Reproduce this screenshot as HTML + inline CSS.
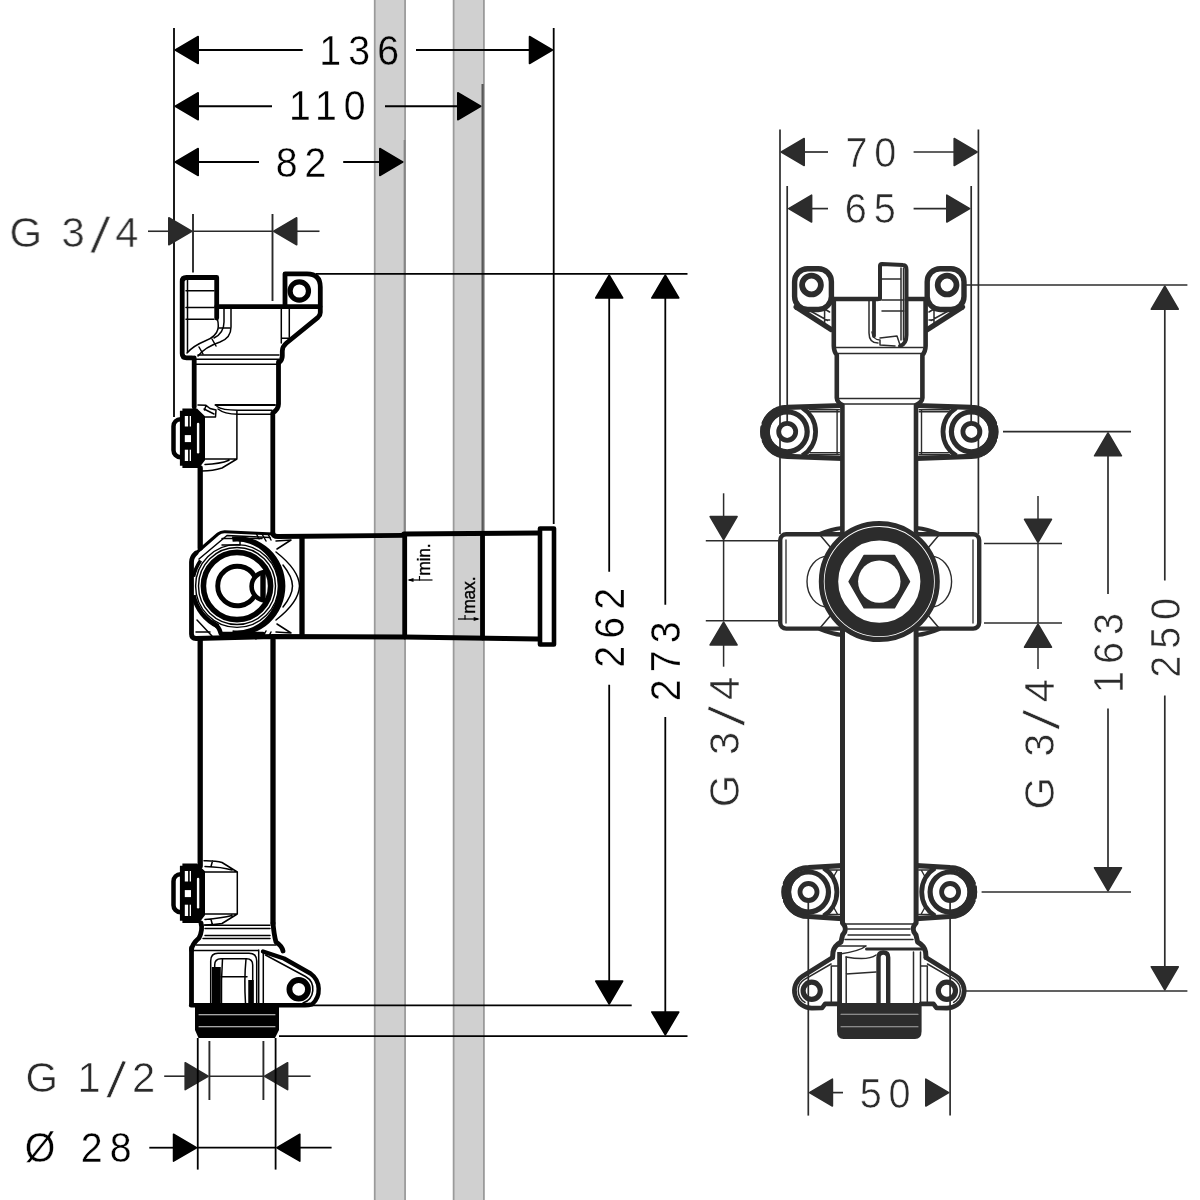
<!DOCTYPE html>
<html lang="en"><head><meta charset="utf-8"><title>Dimensional drawing</title>
<style>
html,body{margin:0;padding:0;background:#fff;}
body{width:1200px;height:1200px;overflow:hidden;}
svg{display:block;}
text{font-family:"Liberation Sans",sans-serif;}
</style></head><body>
<svg width="1200" height="1200" viewBox="0 0 1200 1200">
<rect width="1200" height="1200" fill="#fff"/>
<g opacity="0.999">
<rect x="373.9" y="0" width="32.0" height="1200" fill="#d0d0d0"/>
<rect x="373.9" y="0" width="1.7" height="1200" fill="#9a9a9a"/>
<rect x="404.2" y="0" width="1.7" height="1200" fill="#9a9a9a"/>
<rect x="452.8" y="0" width="31.899999999999977" height="1200" fill="#d0d0d0"/>
<rect x="452.8" y="0" width="1.7" height="1200" fill="#9a9a9a"/>
<rect x="483.0" y="0" width="1.7" height="1200" fill="#9a9a9a"/>
<line x1="174" y1="28" x2="174" y2="417" stroke="#000" stroke-width="1.8" stroke-linecap="butt"/>
<line x1="553.7" y1="28" x2="553.7" y2="524" stroke="#000" stroke-width="1.8" stroke-linecap="butt"/>
<line x1="482.6" y1="84" x2="482.6" y2="533" stroke="#585858" stroke-width="2.2" stroke-linecap="butt"/>
<line x1="404.6" y1="140" x2="404.6" y2="533" stroke="#858585" stroke-width="1.9" stroke-linecap="butt"/>
<line x1="198" y1="50" x2="302.7" y2="50" stroke="#000" stroke-width="1.8" stroke-linecap="butt"/>
<line x1="416" y1="50" x2="530" y2="50" stroke="#000" stroke-width="1.8" stroke-linecap="butt"/>
<polygon points="175.28,50.00 198.20,36.54 198.20,63.46" fill="#000" stroke="#000" stroke-width="1.6" stroke-linejoin="round"/>
<polygon points="552.42,50.00 529.50,36.54 529.50,63.46" fill="#000" stroke="#000" stroke-width="1.6" stroke-linejoin="round"/>
<line x1="198" y1="106.25" x2="272" y2="106.25" stroke="#000" stroke-width="1.8" stroke-linecap="butt"/>
<line x1="385" y1="106.25" x2="458" y2="106.25" stroke="#000" stroke-width="1.8" stroke-linecap="butt"/>
<polygon points="175.28,106.25 198.20,92.79 198.20,119.71" fill="#000" stroke="#000" stroke-width="1.6" stroke-linejoin="round"/>
<polygon points="480.72,106.25 457.80,92.79 457.80,119.71" fill="#000" stroke="#000" stroke-width="1.6" stroke-linejoin="round"/>
<line x1="198" y1="162" x2="259" y2="162" stroke="#000" stroke-width="1.8" stroke-linecap="butt"/>
<line x1="343.2" y1="162" x2="380" y2="162" stroke="#000" stroke-width="1.8" stroke-linecap="butt"/>
<polygon points="175.28,162.00 198.20,148.54 198.20,175.46" fill="#000" stroke="#000" stroke-width="1.6" stroke-linejoin="round"/>
<polygon points="402.72,162.00 379.80,148.54 379.80,175.46" fill="#000" stroke="#000" stroke-width="1.6" stroke-linejoin="round"/>
<line x1="148" y1="231.25" x2="170" y2="231.25" stroke="#2a2a2a" stroke-width="1.6" stroke-linecap="butt"/>
<line x1="193" y1="231.25" x2="272.5" y2="231.25" stroke="#2a2a2a" stroke-width="1.6" stroke-linecap="butt"/>
<line x1="296" y1="231.25" x2="319.5" y2="231.25" stroke="#2a2a2a" stroke-width="1.6" stroke-linecap="butt"/>
<polygon points="191.72,231.25 168.80,217.79 168.80,244.71" fill="#2a2a2a" stroke="#2a2a2a" stroke-width="1.6" stroke-linejoin="round"/>
<polygon points="273.78,231.25 296.70,217.79 296.70,244.71" fill="#2a2a2a" stroke="#2a2a2a" stroke-width="1.6" stroke-linejoin="round"/>
<line x1="193" y1="214" x2="193" y2="272.5" stroke="#2a2a2a" stroke-width="1.9" stroke-linecap="butt"/>
<line x1="272.5" y1="214" x2="272.5" y2="301" stroke="#2a2a2a" stroke-width="1.9" stroke-linecap="butt"/>
<line x1="316" y1="273.8" x2="687.5" y2="273.8" stroke="#000" stroke-width="1.8" stroke-linecap="butt"/>
<line x1="308" y1="1005.3" x2="631.7" y2="1005.3" stroke="#000" stroke-width="1.8" stroke-linecap="butt"/>
<line x1="279" y1="1036.2" x2="687.5" y2="1036.2" stroke="#000" stroke-width="1.8" stroke-linecap="butt"/>
<line x1="609.2" y1="297" x2="609.2" y2="571.7" stroke="#000" stroke-width="1.8" stroke-linecap="butt"/>
<line x1="609.2" y1="684.7" x2="609.2" y2="982" stroke="#000" stroke-width="1.8" stroke-linecap="butt"/>
<polygon points="609.20,275.08 595.74,298.00 622.66,298.00" fill="#000" stroke="#000" stroke-width="1.6" stroke-linejoin="round"/>
<polygon points="609.20,1004.02 595.74,981.10 622.66,981.10" fill="#000" stroke="#000" stroke-width="1.6" stroke-linejoin="round"/>
<line x1="665.3" y1="297" x2="665.3" y2="604.7" stroke="#000" stroke-width="1.8" stroke-linecap="butt"/>
<line x1="665.3" y1="717" x2="665.3" y2="1013" stroke="#000" stroke-width="1.8" stroke-linecap="butt"/>
<polygon points="665.30,275.08 651.84,298.00 678.76,298.00" fill="#000" stroke="#000" stroke-width="1.6" stroke-linejoin="round"/>
<polygon points="665.30,1034.92 651.84,1012.00 678.76,1012.00" fill="#000" stroke="#000" stroke-width="1.6" stroke-linejoin="round"/>
<line x1="164.2" y1="1076.2" x2="186" y2="1076.2" stroke="#2a2a2a" stroke-width="1.6" stroke-linecap="butt"/>
<line x1="209.4" y1="1076.2" x2="263.4" y2="1076.2" stroke="#2a2a2a" stroke-width="1.6" stroke-linecap="butt"/>
<line x1="287" y1="1076.2" x2="310.6" y2="1076.2" stroke="#2a2a2a" stroke-width="1.6" stroke-linecap="butt"/>
<polygon points="208.12,1076.20 185.20,1062.74 185.20,1089.66" fill="#2a2a2a" stroke="#2a2a2a" stroke-width="1.6" stroke-linejoin="round"/>
<polygon points="264.68,1076.20 287.60,1062.74 287.60,1089.66" fill="#2a2a2a" stroke="#2a2a2a" stroke-width="1.6" stroke-linejoin="round"/>
<line x1="209.4" y1="1041" x2="209.4" y2="1100" stroke="#2a2a2a" stroke-width="1.9" stroke-linecap="butt"/>
<line x1="263.4" y1="1041" x2="263.4" y2="1100" stroke="#2a2a2a" stroke-width="1.9" stroke-linecap="butt"/>
<line x1="149.3" y1="1147.7" x2="174" y2="1147.7" stroke="#000" stroke-width="1.8" stroke-linecap="butt"/>
<line x1="197.75" y1="1147.7" x2="275.6" y2="1147.7" stroke="#000" stroke-width="1.8" stroke-linecap="butt"/>
<line x1="299" y1="1147.7" x2="331.6" y2="1147.7" stroke="#000" stroke-width="1.8" stroke-linecap="butt"/>
<polygon points="196.47,1147.70 173.55,1134.24 173.55,1161.16" fill="#000" stroke="#000" stroke-width="1.6" stroke-linejoin="round"/>
<polygon points="276.88,1147.70 299.80,1134.24 299.80,1161.16" fill="#000" stroke="#000" stroke-width="1.6" stroke-linejoin="round"/>
<line x1="197.75" y1="1038" x2="197.75" y2="1169.6" stroke="#000" stroke-width="1.8" stroke-linecap="butt"/>
<line x1="275.6" y1="1038" x2="275.6" y2="1169.6" stroke="#000" stroke-width="1.8" stroke-linecap="butt"/>
<text font-size="42.7" fill="#000" stroke="#fff" stroke-width="0.35" transform="translate(0 64.8) rotate(0.02) scale(0.92 1)"><tspan x="347.14">1</tspan><tspan x="378.56">3</tspan><tspan x="409.97" dy="0" rotate="0" stroke="#d0d0d0">6</tspan></text>
<text font-size="42.7" letter-spacing="7.67" fill="#000" stroke="#fff" stroke-width="0.35" transform="translate(288.97 120.3) rotate(0.02) scale(0.92 1)">110</text>
<text font-size="42.7" letter-spacing="7.67" fill="#000" stroke="#fff" stroke-width="0.35" transform="translate(275.67 176.6) rotate(0.02) scale(0.92 1)">82</text>
<text font-size="43.1" fill="#2a2a2a" stroke="#fff" stroke-width="0.6" transform="translate(0 247) rotate(0.02) scale(0.97 1)"><tspan x="9.80">G</tspan> <tspan x="63.37">3</tspan><tspan x="93.39" font-size="52.51" dy="5" rotate="9">/</tspan><tspan x="118.84" dy="-5">4</tspan></text>
<text font-size="43.1" fill="#2a2a2a" stroke="#fff" stroke-width="0.6" transform="translate(0 1091.8) rotate(0.02) scale(0.97 1)"><tspan x="26.25">G</tspan> <tspan x="79.87">1</tspan><tspan x="109.68" font-size="52.51" dy="5" rotate="9">/</tspan><tspan x="136.16" dy="-5">2</tspan></text>
<text font-size="42.7" fill="#000" stroke="#fff" stroke-width="0.35" transform="translate(0 1162.3) rotate(0.02) scale(0.92 1)"><tspan x="26.78">Ø</tspan> <tspan x="87.80">2</tspan><tspan x="119.21">8</tspan></text>
<text font-size="42.7" letter-spacing="7.67" fill="#000" stroke="#fff" stroke-width="0.35" transform="translate(623.90 667.63) rotate(-90) scale(0.92 1)">262</text>
<text font-size="42.7" letter-spacing="7.67" fill="#000" stroke="#fff" stroke-width="0.35" transform="translate(679.80 701.13) rotate(-90) scale(0.92 1)">273</text>
<text x="430" y="575.8" font-size="17.5" letter-spacing="-0.2" fill="#000" text-anchor="start" font-weight="400" transform="rotate(-90 430 575.8)" stroke="#000" stroke-width="0.35">min.</text>
<text x="475.2" y="613.8" font-size="17.5" letter-spacing="-0.2" fill="#000" text-anchor="start" font-weight="400" transform="rotate(-90 475.2 613.8)" stroke="#000" stroke-width="0.35">max.</text>
<line x1="409" y1="580" x2="432.5" y2="580" stroke="#000" stroke-width="1.2" stroke-linecap="butt"/>
<line x1="419.5" y1="576" x2="419.5" y2="580.5" stroke="#000" stroke-width="1.2" stroke-linecap="butt"/>
<polygon points="407.3,580 413.5,578 413.5,582" fill="#000"/>
<line x1="458" y1="619" x2="478" y2="619" stroke="#000" stroke-width="1.2" stroke-linecap="butt"/>
<line x1="465" y1="615" x2="465" y2="619.5" stroke="#000" stroke-width="1.2" stroke-linecap="butt"/>
<polygon points="479.9,619 473.7,617 473.7,621" fill="#000"/>
<path d="M216.7,318 V277.5 H186.5 Q182.2,277.5 182.2,281.5 V353.5 Q182.2,357.8 186.5,357.8 H192" fill="none" stroke="#000" stroke-width="4.8" stroke-linejoin="round" stroke-linecap="round"/>
<path d="M187.5,280 V352" fill="none" stroke="#000" stroke-width="1.5" stroke-linejoin="round" stroke-linecap="round"/>
<path d="M186,290.8 H214 M186,307.5 H214 M186,319.2 H214" fill="none" stroke="#000" stroke-width="1.5" stroke-linejoin="round" stroke-linecap="round"/>
<path d="M216.7,306.7 H320" fill="none" stroke="#000" stroke-width="4.8" stroke-linejoin="round" stroke-linecap="round"/>
<path d="M285,306 V273.8 H307 Q320.3,273.8 320.3,287 V312.5 Q320.3,315.3 318,317.3 L286.5,343 Q282.3,346.5 282.3,351 V356 Q282.3,360 279,362.5" fill="none" stroke="#000" stroke-width="4.8" stroke-linejoin="round" stroke-linecap="round"/>
<path d="M281.3,309 V343 M289.3,309 V337 M281.5,338.3 H289.3" fill="none" stroke="#000" stroke-width="1.5" stroke-linejoin="round" stroke-linecap="round"/>
<circle cx="299.3" cy="291" r="9.2" fill="none" stroke="#000" stroke-width="5.2"/>
<path d="M231,309 V327 Q231,338 220,342 Q205,347 198,356" fill="none" stroke="#000" stroke-width="1.5" stroke-linejoin="round" stroke-linecap="round"/>
<path d="M216.5,318 Q219,322 218,329 Q216,337 205,341 Q193,346 187,353" fill="none" stroke="#000" stroke-width="1.5" stroke-linejoin="round" stroke-linecap="round"/>
<path d="M224,309 V322 Q224,333 214,338" fill="none" stroke="#000" stroke-width="1.5" stroke-linejoin="round" stroke-linecap="round"/>
<path d="M219,328 H230 M212,339 L216,346 M199,347 L203,354" fill="none" stroke="#000" stroke-width="1.5" stroke-linejoin="round" stroke-linecap="round"/>
<path d="M198,355 H279 M196,359.3 H279 M196,364.2 H279" fill="none" stroke="#000" stroke-width="1.5" stroke-linejoin="round" stroke-linecap="round"/>
<path d="M194.2,358 V407" fill="none" stroke="#000" stroke-width="4.8" stroke-linejoin="round" stroke-linecap="round"/>
<path d="M278.5,362 V404 Q278.5,409 272.8,413 V533" fill="none" stroke="#000" stroke-width="4.8" stroke-linejoin="round" stroke-linecap="round"/>
<path d="M215.5,404.9 H275" fill="none" stroke="#000" stroke-width="2" stroke-linejoin="round" stroke-linecap="round"/>
<path d="M217,406.5 Q222,410.2 238,410.2 H272" fill="none" stroke="#000" stroke-width="1.5" stroke-linejoin="round" stroke-linecap="round"/>
<path d="M218,409 Q224,414 238,414.2 H272" fill="none" stroke="#000" stroke-width="1.5" stroke-linejoin="round" stroke-linecap="round"/>
<path d="M236.9,411 V458.8 M205,459 H236.9 L222,468 Q213,471 202,471 M229,460.3 Q220,464 205,464.5" fill="none" stroke="#000" stroke-width="1.5" stroke-linejoin="round" stroke-linecap="round"/>
<path d="M198,405 L206,405.3 L210,408.5 L216,410 L215.5,417 L205,417 M204,409 L214,414 M206,405.5 L204.5,410" fill="none" stroke="#000" stroke-width="1.5" stroke-linejoin="round" stroke-linecap="round"/>
<rect x="173.5" y="419.2" width="14" height="38" rx="7" fill="none" stroke="#000" stroke-width="4.5"/>
<path d="M182.4,408.5 H197 L205,416.2 V460.2 L199,467.9 H182.4 V465.7 H179.9 V410.7 H182.4 Z" fill="#000"/>
<rect x="184.8" y="416.0" width="3.3" height="10.5" fill="#fff"/>
<rect x="189.7" y="416.0" width="1.3" height="10.5" fill="#fff"/>
<rect x="184.8" y="449.7" width="3.3" height="11.300000000000011" fill="#fff"/>
<rect x="189.7" y="449.7" width="1.3" height="11.300000000000011" fill="#fff"/>
<rect x="184.8" y="435.09999999999997" width="6.2" height="7" fill="#fff"/>
<rect x="196.9" y="422.7" width="2.4" height="30.8" rx="1.2" fill="#fff"/>
<path d="M200.2,468 V548" fill="none" stroke="#000" stroke-width="5.3" stroke-linejoin="round" stroke-linecap="round"/>
<path d="M200.2,640 V866" fill="none" stroke="#000" stroke-width="5.3" stroke-linejoin="round" stroke-linecap="round"/>
<path d="M273,640 V923" fill="none" stroke="#000" stroke-width="5.3" stroke-linejoin="round" stroke-linecap="round"/>
<path d="M272.8,533 Q273,536.5 278,536.5 L405,535.3" fill="none" stroke="#000" stroke-width="4.8" stroke-linejoin="round" stroke-linecap="round"/>
<path d="M404,534 L538,533" fill="none" stroke="#000" stroke-width="5.2" stroke-linejoin="round" stroke-linecap="round"/>
<path d="M273,534 L225,531.8 Q221,531.6 218,534 L195,554" fill="none" stroke="#000" stroke-width="3" stroke-linejoin="round" stroke-linecap="round"/>
<path d="M270,537.5 L227,535.5 L199,559" fill="none" stroke="#000" stroke-width="1.5" stroke-linejoin="round" stroke-linecap="round"/>
<path d="M196,553 Q191.5,557 191.5,562 V634 Q191.5,638.5 196,638.5 L273,636.5 L405,637 L538,639" fill="none" stroke="#000" stroke-width="4.8" stroke-linejoin="round" stroke-linecap="round"/>
<path d="M302,537 V636" fill="none" stroke="#000" stroke-width="5.3" stroke-linejoin="round" stroke-linecap="round"/>
<path d="M404.7,535 V637" fill="none" stroke="#000" stroke-width="4.8" stroke-linejoin="round" stroke-linecap="round"/>
<path d="M482.5,534 V638" fill="none" stroke="#000" stroke-width="4.8" stroke-linejoin="round" stroke-linecap="round"/>
<rect x="540" y="528.5" width="14" height="116" fill="#fff" stroke="#000" stroke-width="4.6" stroke-linejoin="round"/>
<circle cx="237" cy="586" r="41.4" fill="none" stroke="#000" stroke-width="1.4"/>
<circle cx="237" cy="586" r="38.5" fill="none" stroke="#000" stroke-width="1.4"/>
<circle cx="237" cy="586" r="33.6" fill="none" stroke="#000" stroke-width="5.6"/>
<path d="M231.94,536.57 A48.4,49.7 0 1 1 231.94,635.43 L232.69,630.16 A41.2,44.4 0 1 0 232.69,541.84 Z" fill="#000"/>
<path d="M218.19,626.33 A44.5,44.5 0 0 1 193.47,595.25" fill="none" stroke="#000" stroke-width="4.6" stroke-linecap="butt"/>
<path d="M193.47,576.75 A44.5,44.5 0 0 1 200.55,560.48" fill="none" stroke="#000" stroke-width="3.6" stroke-linecap="butt"/>
<path d="M254.5,596 A19.75,19.75 0 1 1 254.5,576" fill="none" stroke="#000" stroke-width="4.9" stroke-linejoin="round" stroke-linecap="round"/>
<clipPath id="vc"><circle cx="237" cy="586" r="33"/></clipPath>
<g clip-path="url(#vc)"><circle cx="265.8" cy="586.3" r="14.2" fill="none" stroke="#000" stroke-width="4.6"/></g>
<path d="M263,574 V600" fill="none" stroke="#000" stroke-width="5.4" stroke-linejoin="round" stroke-linecap="butt"/>
<path d="M222,538.5 H262 M240,538.5 V545 H222 M262,534 L266,541 M256,533 L259,539 M268,534 L271,540" fill="none" stroke="#000" stroke-width="1.5" stroke-linejoin="round" stroke-linecap="round"/>
<path d="M276,541 L291,540 L277,549 M276,632 L291,633 L277,624" fill="none" stroke="#000" stroke-width="1.5" stroke-linejoin="round" stroke-linecap="round"/>
<path d="M276,552 Q299,570 299.5,586 Q299,602 276,620 M283,565 Q292.5,577 292.5,586 Q292.5,595 283,607" fill="none" stroke="#000" stroke-width="1.5" stroke-linejoin="round" stroke-linecap="round"/>
<path d="M196,632 H210 M262,638 L266,631 M256,639 L259,633 M268,638 L271,632" fill="none" stroke="#000" stroke-width="1.5" stroke-linejoin="round" stroke-linecap="round"/>
<path d="M197,620 L212,636" fill="none" stroke="#000" stroke-width="1.5" stroke-linejoin="round" stroke-linecap="round"/>
<path d="M213,623 Q219,626 221,634 H263" fill="none" stroke="#000" stroke-width="4.6" stroke-linejoin="round" stroke-linecap="round"/>
<rect x="173.5" y="874.2" width="14" height="38" rx="7" fill="none" stroke="#000" stroke-width="4.5"/>
<path d="M182.4,863.5 H197 L205,871.2 V915.2 L199,922.9000000000001 H182.4 V920.7 H179.9 V865.7 H182.4 Z" fill="#000"/>
<rect x="184.8" y="871.0" width="3.3" height="10.5" fill="#fff"/>
<rect x="189.7" y="871.0" width="1.3" height="10.5" fill="#fff"/>
<rect x="184.8" y="904.7" width="3.3" height="11.299999999999955" fill="#fff"/>
<rect x="189.7" y="904.7" width="1.3" height="11.299999999999955" fill="#fff"/>
<rect x="184.8" y="890.1" width="6.2" height="7" fill="#fff"/>
<rect x="196.9" y="877.7" width="2.4" height="30.8" rx="1.2" fill="#fff"/>
<path d="M205,872 H237.3 V914 H205 M237.3,872 L222,862.5 Q216,860.5 204,860.7 M237.3,914 L222,923.5 Q214,925 204,925 M205,866.5 Q222,867 232,870 M205,919.5 Q222,918 232,915.5 M212.5,861 L211,866.5 M212.5,925 L211,919.5" fill="none" stroke="#000" stroke-width="1.5" stroke-linejoin="round" stroke-linecap="round"/>
<path d="M205,925.2 H270 M205,928.6 H270 M205,935.5 H270 M203,938.5 H270 M196,945 H276" fill="none" stroke="#000" stroke-width="1.5" stroke-linejoin="round" stroke-linecap="round"/>
<path d="M201,923 Q203,930 199,938 Q192,944 191.5,950" fill="none" stroke="#000" stroke-width="4.8" stroke-linejoin="round" stroke-linecap="round"/>
<path d="M273,923 Q274,935 276,942 Q282,946 283,951" fill="none" stroke="#000" stroke-width="4.8" stroke-linejoin="round" stroke-linecap="round"/>
<path d="M191.5,948 V1004" fill="none" stroke="#000" stroke-width="4.8" stroke-linejoin="round" stroke-linecap="round"/>
<path d="M193,950.5 H258.7 M258.7,950 V1003 M263.3,952 V1003" fill="none" stroke="#000" stroke-width="1.5" stroke-linejoin="round" stroke-linecap="round"/>
<path d="M263,951.5 L284,958.5 L310.5,973.5 A19.8,19.8 0 0 1 312,1004.4 Q309,1005.2 305,1005.2 H191" fill="none" stroke="#000" stroke-width="4.3999999999999995" stroke-linejoin="round" stroke-linecap="round"/>
<path d="M265.5,955 L305.5,976.5 A14.6,14.6 0 0 1 303,1003" fill="none" stroke="#000" stroke-width="1.5" stroke-linejoin="round" stroke-linecap="round"/>
<circle cx="298.7" cy="989.3" r="9.3" fill="none" stroke="#000" stroke-width="5.8"/>
<path d="M210.7,1003 V961 Q210.7,953.3 218,953.3 H249 Q256.7,953.3 256.7,961 V1003" fill="none" stroke="#000" stroke-width="1.5" stroke-linejoin="round" stroke-linecap="round"/>
<path d="M214.7,1003 V965 Q214.7,958.7 221,958.7 H246.5 Q252.7,958.7 252.7,965 V1003" fill="none" stroke="#000" stroke-width="1.5" stroke-linejoin="round" stroke-linecap="round"/>
<path d="M216.3,1003 V967" fill="none" stroke="#000" stroke-width="9" stroke-linejoin="round" stroke-linecap="butt"/>
<path d="M251,1003 V980" fill="none" stroke="#000" stroke-width="5.5" stroke-linejoin="round" stroke-linecap="butt"/>
<path d="M221,976.7 H247 M222.5,959 Q221,980 221.5,1003 M246,959 Q244,980 245.5,1003" fill="none" stroke="#000" stroke-width="1.5" stroke-linejoin="round" stroke-linecap="round"/>
<path d="M195,1004 H279 V1030 L275,1038 H198.5 L195,1030 Z" fill="#000"/>
<path d="M199,1014.7 H275 M199,1026.7 H275" fill="none" stroke="#ddd" stroke-width="1.1" stroke-linejoin="round" stroke-linecap="round"/>
<line x1="780" y1="129.4" x2="780" y2="534" stroke="#2c2c2c" stroke-width="1.7" stroke-linecap="butt"/>
<line x1="978.4" y1="129.4" x2="978.4" y2="534" stroke="#2c2c2c" stroke-width="1.7" stroke-linecap="butt"/>
<line x1="803" y1="152" x2="828" y2="152" stroke="#2c2c2c" stroke-width="1.7" stroke-linecap="butt"/>
<line x1="913.6" y1="152" x2="955" y2="152" stroke="#2c2c2c" stroke-width="1.7" stroke-linecap="butt"/>
<polygon points="781.28,152.00 804.20,138.54 804.20,165.46" fill="#2c2c2c" stroke="#2c2c2c" stroke-width="1.6" stroke-linejoin="round"/>
<polygon points="977.12,152.00 954.20,138.54 954.20,165.46" fill="#2c2c2c" stroke="#2c2c2c" stroke-width="1.6" stroke-linejoin="round"/>
<line x1="787.2" y1="186" x2="787.2" y2="423" stroke="#2c2c2c" stroke-width="1.7" stroke-linecap="butt"/>
<line x1="971.2" y1="186" x2="971.2" y2="423" stroke="#2c2c2c" stroke-width="1.7" stroke-linecap="butt"/>
<line x1="810" y1="208.6" x2="828" y2="208.6" stroke="#2c2c2c" stroke-width="1.7" stroke-linecap="butt"/>
<line x1="913.6" y1="208.6" x2="948" y2="208.6" stroke="#2c2c2c" stroke-width="1.7" stroke-linecap="butt"/>
<polygon points="788.68,208.60 811.60,195.14 811.60,222.06" fill="#2c2c2c" stroke="#2c2c2c" stroke-width="1.6" stroke-linejoin="round"/>
<polygon points="969.72,208.60 946.80,195.14 946.80,222.06" fill="#2c2c2c" stroke="#2c2c2c" stroke-width="1.6" stroke-linejoin="round"/>
<line x1="808.3" y1="901" x2="808.3" y2="1115.6" stroke="#2c2c2c" stroke-width="1.7" stroke-linecap="butt"/>
<line x1="950.1" y1="901" x2="950.1" y2="1115.6" stroke="#2c2c2c" stroke-width="1.7" stroke-linecap="butt"/>
<line x1="832" y1="1092.6" x2="843" y2="1092.6" stroke="#2c2c2c" stroke-width="1.7" stroke-linecap="butt"/>
<polygon points="809.48,1092.60 832.40,1079.14 832.40,1106.06" fill="#2c2c2c" stroke="#2c2c2c" stroke-width="1.6" stroke-linejoin="round"/>
<polygon points="948.72,1092.60 925.80,1079.14 925.80,1106.06" fill="#2c2c2c" stroke="#2c2c2c" stroke-width="1.6" stroke-linejoin="round"/>
<line x1="723.6" y1="493.3" x2="723.6" y2="517" stroke="#2c2c2c" stroke-width="1.5" stroke-linecap="butt"/>
<line x1="723.6" y1="540.8" x2="723.6" y2="620.8" stroke="#2c2c2c" stroke-width="1.5" stroke-linecap="butt"/>
<line x1="723.6" y1="644" x2="723.6" y2="666.7" stroke="#2c2c2c" stroke-width="1.5" stroke-linecap="butt"/>
<polygon points="723.60,539.52 710.14,516.60 737.06,516.60" fill="#2c2c2c" stroke="#2c2c2c" stroke-width="1.6" stroke-linejoin="round"/>
<polygon points="723.60,622.08 710.14,645.00 737.06,645.00" fill="#2c2c2c" stroke="#2c2c2c" stroke-width="1.6" stroke-linejoin="round"/>
<line x1="705.8" y1="540.8" x2="778" y2="540.8" stroke="#2c2c2c" stroke-width="1.5" stroke-linecap="butt"/>
<line x1="705.8" y1="620.8" x2="778" y2="620.8" stroke="#2c2c2c" stroke-width="1.5" stroke-linecap="butt"/>
<line x1="1038" y1="496" x2="1038" y2="520" stroke="#2c2c2c" stroke-width="1.5" stroke-linecap="butt"/>
<line x1="1038" y1="543.6" x2="1038" y2="623" stroke="#2c2c2c" stroke-width="1.5" stroke-linecap="butt"/>
<line x1="1038" y1="647" x2="1038" y2="669" stroke="#2c2c2c" stroke-width="1.5" stroke-linecap="butt"/>
<polygon points="1038.00,542.32 1024.54,519.40 1051.46,519.40" fill="#2c2c2c" stroke="#2c2c2c" stroke-width="1.6" stroke-linejoin="round"/>
<polygon points="1038.00,624.28 1024.54,647.20 1051.46,647.20" fill="#2c2c2c" stroke="#2c2c2c" stroke-width="1.6" stroke-linejoin="round"/>
<line x1="984" y1="543.6" x2="1062" y2="543.6" stroke="#2c2c2c" stroke-width="1.5" stroke-linecap="butt"/>
<line x1="984" y1="623" x2="1062" y2="623" stroke="#2c2c2c" stroke-width="1.5" stroke-linecap="butt"/>
<line x1="1003" y1="431.6" x2="1131" y2="431.6" stroke="#2c2c2c" stroke-width="1.7" stroke-linecap="butt"/>
<line x1="981.6" y1="892" x2="1131" y2="892" stroke="#2c2c2c" stroke-width="1.7" stroke-linecap="butt"/>
<line x1="1108" y1="455" x2="1108" y2="594" stroke="#2c2c2c" stroke-width="1.7" stroke-linecap="butt"/>
<line x1="1108" y1="708.4" x2="1108" y2="869" stroke="#2c2c2c" stroke-width="1.7" stroke-linecap="butt"/>
<polygon points="1108.00,432.88 1094.54,455.80 1121.46,455.80" fill="#2c2c2c" stroke="#2c2c2c" stroke-width="1.6" stroke-linejoin="round"/>
<polygon points="1108.00,890.72 1094.54,867.80 1121.46,867.80" fill="#2c2c2c" stroke="#2c2c2c" stroke-width="1.6" stroke-linejoin="round"/>
<line x1="962" y1="285" x2="1187.4" y2="285" stroke="#2c2c2c" stroke-width="1.7" stroke-linecap="butt"/>
<line x1="966" y1="991" x2="1187.4" y2="991" stroke="#2c2c2c" stroke-width="1.7" stroke-linecap="butt"/>
<line x1="1164.8" y1="308" x2="1164.8" y2="580.4" stroke="#2c2c2c" stroke-width="1.7" stroke-linecap="butt"/>
<line x1="1164.8" y1="695.6" x2="1164.8" y2="968" stroke="#2c2c2c" stroke-width="1.7" stroke-linecap="butt"/>
<polygon points="1164.80,286.28 1151.34,309.20 1178.26,309.20" fill="#2c2c2c" stroke="#2c2c2c" stroke-width="1.6" stroke-linejoin="round"/>
<polygon points="1164.80,989.72 1151.34,966.80 1178.26,966.80" fill="#2c2c2c" stroke="#2c2c2c" stroke-width="1.6" stroke-linejoin="round"/>
<text font-size="43.1" letter-spacing="7.45" fill="#2c2c2c" stroke="#fff" stroke-width="0.6" transform="translate(845.47 166.6) rotate(0.02) scale(0.92 1)">70</text>
<text font-size="43.1" letter-spacing="7.45" fill="#2c2c2c" stroke="#fff" stroke-width="0.6" transform="translate(844.87 223.1) rotate(0.02) scale(0.92 1)">65</text>
<text font-size="43.1" letter-spacing="7.45" fill="#2c2c2c" stroke="#fff" stroke-width="0.6" transform="translate(859.67 1107.8) rotate(0.02) scale(0.92 1)">50</text>
<text font-size="43.1" fill="#2c2c2c" stroke="#fff" stroke-width="0.6" transform="translate(738.8 810.3) rotate(-90) scale(0.97 1)"><tspan x="3.15">G</tspan> <tspan x="56.98">3</tspan><tspan x="87.20" font-size="52.51" dy="5" rotate="9">/</tspan><tspan x="113.78" dy="-5">4</tspan></text>
<text font-size="43.1" fill="#2c2c2c" stroke="#fff" stroke-width="0.6" transform="translate(1053.5 812.3) rotate(-90) scale(0.97 1)"><tspan x="2.84">G</tspan> <tspan x="57.19">3</tspan><tspan x="85.45" font-size="52.51" dy="5" rotate="9">/</tspan><tspan x="113.58" dy="-5">4</tspan></text>
<text font-size="43.1" letter-spacing="7.45" fill="#2c2c2c" stroke="#fff" stroke-width="0.6" transform="translate(1122.60 692.93) rotate(-90) scale(0.92 1)">163</text>
<text font-size="43.1" letter-spacing="7.45" fill="#2c2c2c" stroke="#fff" stroke-width="0.6" transform="translate(1179.60 677.73) rotate(-90) scale(0.92 1)">250</text>
<rect x="794.60" y="268.7" width="36.8" height="40.8" rx="13" ry="13" fill="none" stroke="#2c2c2c" stroke-width="5.4"/>
<path d="M796.0999999999999,307 L831.0999999999999,329.5" fill="none" stroke="#2c2c2c" stroke-width="5.2" stroke-linejoin="round" stroke-linecap="round"/>
<path d="M808.5999999999999,310 L827.5999999999999,320.5 M824.5999999999999,309 V324 M829.5999999999999,320 H824.5999999999999 M829.5999999999999,312 L824.5999999999999,309" fill="none" stroke="#2c2c2c" stroke-width="1.5" stroke-linejoin="round" stroke-linecap="round"/>
<circle cx="811.4999999999999" cy="285" r="9.4" fill="none" stroke="#2c2c2c" stroke-width="5.8"/>
<rect x="927.20" y="268.7" width="36.8" height="40.8" rx="13" ry="13" fill="none" stroke="#2c2c2c" stroke-width="5.4"/>
<path d="M962.5,307 L927.5,329.5" fill="none" stroke="#2c2c2c" stroke-width="5.2" stroke-linejoin="round" stroke-linecap="round"/>
<path d="M950.0,310 L931.0,320.5 M934.0,309 V324 M929.0,320 H934.0 M929.0,312 L934.0,309" fill="none" stroke="#2c2c2c" stroke-width="1.5" stroke-linejoin="round" stroke-linecap="round"/>
<circle cx="947.1" cy="285" r="9.4" fill="none" stroke="#2c2c2c" stroke-width="5.8"/>
<path d="M834,299 H878 M907,299 H925" fill="none" stroke="#2c2c2c" stroke-width="4.6" stroke-linejoin="round" stroke-linecap="round"/>
<path d="M833.8,299 V346 Q834,352 836.8,355 V398 Q837,402 842.4,405 V533" fill="none" stroke="#2c2c2c" stroke-width="4.6" stroke-linejoin="round" stroke-linecap="round"/>
<path d="M925.6,299 V346 Q925.4,352 922.4,355 V398 Q922.2,402 916,405 V533" fill="none" stroke="#2c2c2c" stroke-width="4.6" stroke-linejoin="round" stroke-linecap="round"/>
<path d="M836,347.5 H923 M838,353.5 H921 M838,398.5 H921 M842,404 H916" fill="none" stroke="#2c2c2c" stroke-width="1.5" stroke-linejoin="round" stroke-linecap="round"/>
<path d="M880,299 V266 Q880,264 882,264 L903,265 Q906.5,265 906.5,270 V335 Q906.5,344 900,346" fill="none" stroke="#2c2c2c" stroke-width="3.9999999999999996" stroke-linejoin="round" stroke-linecap="round"/>
<path d="M874,301 V336" fill="none" stroke="#2c2c2c" stroke-width="3.8" stroke-linejoin="round" stroke-linecap="round"/>
<path d="M882,279 H901 M882,300 H904 M882,311 H904 M901,268 V340 M903.5,268 V340" fill="none" stroke="#2c2c2c" stroke-width="1.5" stroke-linejoin="round" stroke-linecap="round"/>
<path d="M869,301 V333 Q869,343 878,343 M872,332 Q873,340 880,340 L880,345 L895,346 M880,338 L897,336 L900,345" fill="none" stroke="#2c2c2c" stroke-width="1.5" stroke-linejoin="round" stroke-linecap="round"/>
<path d="M842.3999999999999,405.5 L787.1999999999999,407.3 A24.5,24.5 0 0 0 787.1999999999999,456.3 L842.3999999999999,458.5" fill="none" stroke="#2c2c2c" stroke-width="5.2" stroke-linejoin="round" stroke-linecap="butt"/>
<path d="M776.78,412.20 A22.2,22.2 0 0 0 776.78,451.40" fill="none" stroke="#2c2c2c" stroke-width="9.6"/>
<circle cx="787.1999999999999" cy="431.8" r="20" fill="none" stroke="#2c2c2c" stroke-width="5.2"/>
<path d="M802.25,407.72 A28.4,28.4 0 0 1 802.25,455.88" fill="none" stroke="#2c2c2c" stroke-width="4.8"/>
<circle cx="787.1999999999999" cy="431.8" r="8.5" fill="none" stroke="#2c2c2c" stroke-width="4.8"/>
<rect x="759.20" y="423.3" width="2.4" height="2" fill="#fff"/>
<rect x="759.20" y="438.8" width="2.4" height="2" fill="#fff"/>
<path d="M839.3999999999999,409.8 H809.1999999999999 M839.3999999999999,411.8 H810.1999999999999 M839.3999999999999,452.8 H810.1999999999999 M839.3999999999999,454.8 H809.1999999999999 M837.0999999999999,409.8 V454.8" fill="none" stroke="#2c2c2c" stroke-width="1.4" stroke-linejoin="round" stroke-linecap="round"/>
<path d="M842.3999999999999,865.7 L808.4999999999999,867.5 A24.5,24.5 0 0 0 808.4999999999999,916.5 L842.3999999999999,918.7" fill="none" stroke="#2c2c2c" stroke-width="5.2" stroke-linejoin="round" stroke-linecap="butt"/>
<path d="M798.08,872.40 A22.2,22.2 0 0 0 798.08,911.60" fill="none" stroke="#2c2c2c" stroke-width="9.6"/>
<circle cx="808.4999999999999" cy="892" r="20" fill="none" stroke="#2c2c2c" stroke-width="5.2"/>
<path d="M823.55,867.92 A28.4,28.4 0 0 1 823.55,916.08" fill="none" stroke="#2c2c2c" stroke-width="4.8"/>
<circle cx="808.4999999999999" cy="892" r="8.5" fill="none" stroke="#2c2c2c" stroke-width="4.8"/>
<rect x="780.50" y="883.5" width="2.4" height="2" fill="#fff"/>
<rect x="780.50" y="899" width="2.4" height="2" fill="#fff"/>
<path d="M839.8999999999999,870 H828.4999999999999 M839.8999999999999,914.5 H828.4999999999999 M837.3999999999999,870 L832.8999999999999,878 M837.3999999999999,914 L832.8999999999999,906" fill="none" stroke="#2c2c2c" stroke-width="1.4" stroke-linejoin="round" stroke-linecap="round"/>
<path d="M916.2,405.5 L971.4,407.3 A24.5,24.5 0 0 1 971.4,456.3 L916.2,458.5" fill="none" stroke="#2c2c2c" stroke-width="5.2" stroke-linejoin="round" stroke-linecap="butt"/>
<path d="M981.82,412.20 A22.2,22.2 0 0 1 981.82,451.40" fill="none" stroke="#2c2c2c" stroke-width="9.6"/>
<circle cx="971.4" cy="431.8" r="20" fill="none" stroke="#2c2c2c" stroke-width="5.2"/>
<path d="M956.35,407.72 A28.4,28.4 0 0 0 956.35,455.88" fill="none" stroke="#2c2c2c" stroke-width="4.8"/>
<circle cx="971.4" cy="431.8" r="8.5" fill="none" stroke="#2c2c2c" stroke-width="4.8"/>
<rect x="997.00" y="423.3" width="2.4" height="2" fill="#fff"/>
<rect x="997.00" y="438.8" width="2.4" height="2" fill="#fff"/>
<path d="M919.2,409.8 H949.4 M919.2,411.8 H948.4 M919.2,452.8 H948.4 M919.2,454.8 H949.4 M921.5,409.8 V454.8" fill="none" stroke="#2c2c2c" stroke-width="1.4" stroke-linejoin="round" stroke-linecap="round"/>
<path d="M916.2,865.7 L950.1,867.5 A24.5,24.5 0 0 1 950.1,916.5 L916.2,918.7" fill="none" stroke="#2c2c2c" stroke-width="5.2" stroke-linejoin="round" stroke-linecap="butt"/>
<path d="M960.52,872.40 A22.2,22.2 0 0 1 960.52,911.60" fill="none" stroke="#2c2c2c" stroke-width="9.6"/>
<circle cx="950.1" cy="892" r="20" fill="none" stroke="#2c2c2c" stroke-width="5.2"/>
<path d="M935.05,867.92 A28.4,28.4 0 0 0 935.05,916.08" fill="none" stroke="#2c2c2c" stroke-width="4.8"/>
<circle cx="950.1" cy="892" r="8.5" fill="none" stroke="#2c2c2c" stroke-width="4.8"/>
<rect x="975.70" y="883.5" width="2.4" height="2" fill="#fff"/>
<rect x="975.70" y="899" width="2.4" height="2" fill="#fff"/>
<path d="M918.7,870 H930.1 M918.7,914.5 H930.1 M921.2,870 L925.7,878 M921.2,914 L925.7,906" fill="none" stroke="#2c2c2c" stroke-width="1.4" stroke-linejoin="round" stroke-linecap="round"/>
<path d="M842.4999999999999,629 V923 Q845.3999999999999,926 845.3999999999999,929 Q845.3999999999999,932 842.5999999999999,935 L840.9999999999999,942 Q833.9999999999999,946 832.9999999999999,952 L832.5999999999999,957.5" fill="none" stroke="#2c2c2c" stroke-width="5.0" stroke-linejoin="round" stroke-linecap="round"/>
<path d="M916.1,629 V923 Q913.2,926 913.2,929 Q913.2,932 916.0,935 L917.6,942 Q924.6,946 925.6,952 L926.0,957.5" fill="none" stroke="#2c2c2c" stroke-width="5.0" stroke-linejoin="round" stroke-linecap="round"/>
<rect x="780.2" y="534.2" width="199" height="94.4" rx="6" fill="none" stroke="#2c2c2c" stroke-width="4.4"/>
<path d="M786,540 V623 M973,540 V623" fill="none" stroke="#2c2c2c" stroke-width="1.3" stroke-linejoin="round" stroke-linecap="round"/>
<circle cx="879.3" cy="581.6" r="60" fill="#fff"/>
<ellipse cx="828" cy="581.6" rx="21" ry="25.5" fill="none" stroke="#2c2c2c" stroke-width="1.4"/>
<ellipse cx="930.6" cy="581.6" rx="21" ry="25.5" fill="none" stroke="#2c2c2c" stroke-width="1.4"/>
<circle cx="879.3" cy="581.6" r="57" fill="#fff"/>
<circle cx="879.3" cy="581.6" r="58" fill="none" stroke="#2c2c2c" stroke-width="5"/>
<circle cx="879.3" cy="581.6" r="47.9" fill="none" stroke="#2c2c2c" stroke-width="13.6"/>
<path d="M820,535 L831,548 M939,535 L928,548 M820,628 L831,615 M939,628 L928,615" fill="none" stroke="#2c2c2c" stroke-width="1.5" stroke-linejoin="round" stroke-linecap="round"/>
<path d="M820,534 Q832,529 842,528 M939,534 Q927,529 917,528 M820,629 Q832,634 842,635 M939,629 Q927,634 917,635" fill="none" stroke="#2c2c2c" stroke-width="4.1" stroke-linejoin="round" stroke-linecap="round"/>
<polygon points="909.5,581.6 894.4,607.8 864.2,607.8 849.1,581.6 864.2,555.4 894.4,555.4" fill="#2c2c2c" stroke="#2c2c2c" stroke-width="1.5" stroke-linejoin="round"/>
<circle cx="879.3" cy="581.6" r="21.2" fill="#fff"/>
<path d="M845,924 H913 M848,929 H910 M848,935 H910 M845,939.6 H913" fill="none" stroke="#2c2c2c" stroke-width="1.5" stroke-linejoin="round" stroke-linecap="round"/>
<path d="M838,946 H866 M840,954 Q860,951 866,946 M846,957 Q868,961 876,955" fill="none" stroke="#2c2c2c" stroke-width="1.5" stroke-linejoin="round" stroke-linecap="round"/>
<path d="M866.5,949 H922" fill="none" stroke="#2c2c2c" stroke-width="3" stroke-linejoin="round" stroke-linecap="round"/>
<path d="M839.6,952 V1003" fill="none" stroke="#2c2c2c" stroke-width="4.8" stroke-linejoin="round" stroke-linecap="butt"/>
<path d="M846.2,957 V1003 M846,974 L876,972 M920.5,952 V1003 M913.5,952 V1003" fill="none" stroke="#2c2c2c" stroke-width="1.5" stroke-linejoin="round" stroke-linecap="round"/>
<path d="M878.5,1003 V957.5 Q878.5,952.5 883.3,952.5 Q888.2,952.5 888.2,957.5 V1003" fill="none" stroke="#2c2c2c" stroke-width="4.4" stroke-linejoin="round" stroke-linecap="butt"/>
<path d="M832.5999999999999,957.5 L802.53,976.13 A17.3,17.3 0 0 0 812.30,1008.09 L822.0999999999999,1008 L825.0999999999999,1003.8 H837.5999999999999" fill="none" stroke="#2c2c2c" stroke-width="4.7" stroke-linejoin="round" stroke-linecap="round"/>
<path d="M831.0999999999999,964 L804.60,979.44 A13.4,13.4 0 0 0 805.00,1002.40" fill="none" stroke="#2c2c2c" stroke-width="1.5" stroke-linejoin="round" stroke-linecap="round"/>
<path d="M831.3,966 V1003 M837.5999999999999,966 H831.3" fill="none" stroke="#2c2c2c" stroke-width="1.5" stroke-linejoin="round" stroke-linecap="round"/>
<circle cx="811.6999999999999" cy="990.8" r="8.6" fill="none" stroke="#2c2c2c" stroke-width="5.2"/>
<path d="M926.0,957.5 L956.07,976.13 A17.3,17.3 0 0 1 946.30,1008.09 L936.5,1008 L933.5,1003.8 H921.0" fill="none" stroke="#2c2c2c" stroke-width="4.7" stroke-linejoin="round" stroke-linecap="round"/>
<path d="M927.5,964 L954.00,979.44 A13.4,13.4 0 0 1 953.60,1002.40" fill="none" stroke="#2c2c2c" stroke-width="1.5" stroke-linejoin="round" stroke-linecap="round"/>
<path d="M927.3,966 V1003 M921.0,966 H927.3" fill="none" stroke="#2c2c2c" stroke-width="1.5" stroke-linejoin="round" stroke-linecap="round"/>
<circle cx="946.9" cy="990.8" r="8.6" fill="none" stroke="#2c2c2c" stroke-width="5.2"/>
<path d="M837,1003 H921.6 V1031 Q921.6,1039 915,1039 H843.6 Q837,1039 837,1031 Z" fill="#2c2c2c"/>
<path d="M841,1014.2 H918 M841,1026.8 H918" fill="none" stroke="#a8a8a8" stroke-width="1.1" stroke-linejoin="round" stroke-linecap="round"/>
</g>
</svg>
</body></html>
